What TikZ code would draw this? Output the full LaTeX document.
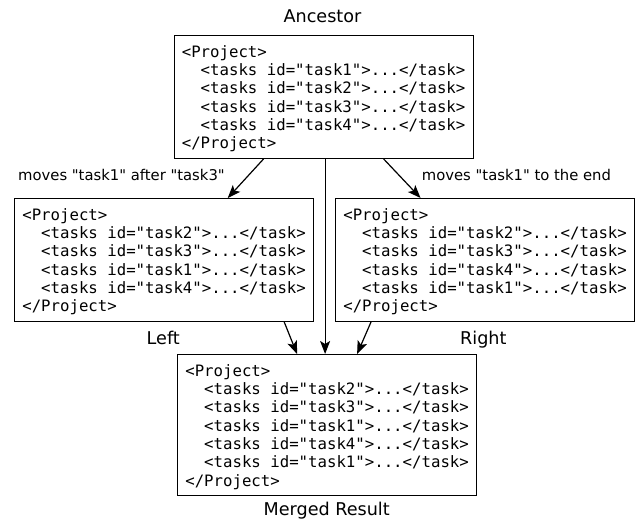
\documentclass[tikz,border=0pt]{standalone}
\usepackage{fontspec}
\setmainfont{DejaVu Sans}[Ligatures=TeXOff]
\setmonofont{DejaVu Sans Mono}
\usetikzlibrary{arrows.meta,calc}
\newcommand{\ind}{\phantom{xx}}
\newcommand{\fst}{\rule{0pt}{21.7pt}}
\newcommand{\lst}{\rule[-9.4pt]{0pt}{9.4pt}}
\tikzset{
  codebox/.style={draw, line width=1.2pt, anchor=north west, inner xsep=0pt, inner ysep=0pt,
    minimum width=299pt, align=left,
    font=\ttfamily\fontsize{15.7pt}{18.33pt}\selectfont},
  biglabel/.style={anchor=base, inner sep=0pt, font=\fontsize{17.6pt}{20pt}\selectfont},
  smalllabel/.style={anchor=base west, inner sep=0pt, font=\fontsize{14.8pt}{18pt}\selectfont},
  conn/.style={line width=1.2pt, -{Stealth[length=13pt,width=10pt,inset=3pt]}}
}
\begin{document}
\begin{tikzpicture}[x=1pt,y=-1pt]
\useasboundingbox (0,0) rectangle (635,520);
\node[codebox] (anc) at (173.5,35) {%
\fst<Project>\\
\ind<tasks id="task1">...</task>\\
\ind<tasks id="task2">...</task>\\
\ind<tasks id="task3">...</task>\\
\ind<tasks id="task4">...</task>\\
\lst</Project>};
\node[codebox] (lft) at (14,198) {%
\fst<Project>\\
\ind<tasks id="task2">...</task>\\
\ind<tasks id="task3">...</task>\\
\ind<tasks id="task1">...</task>\\
\ind<tasks id="task4">...</task>\\
\lst</Project>};
\node[codebox] (rgt) at (335,198) {%
\fst<Project>\\
\ind<tasks id="task2">...</task>\\
\ind<tasks id="task3">...</task>\\
\ind<tasks id="task4">...</task>\\
\ind<tasks id="task1">...</task>\\
\lst</Project>};
\node[codebox] (mer) at (177,354) {%
\fst<Project>\\
\ind<tasks id="task2">...</task>\\
\ind<tasks id="task3">...</task>\\
\ind<tasks id="task1">...</task>\\
\ind<tasks id="task4">...</task>\\
\ind<tasks id="task1">...</task>\\
\lst</Project>};

\node[biglabel] (tanc) at (322.5,22.3) {Ancestor};
\node[biglabel] (tlft) at (163.3,344) {Left};
\node[biglabel] (trgt) at (483.3,344) {Right};
\node[biglabel] (tmer) at (326.7,515) {Merged Result};
\node[smalllabel] (lblL) at (18,180) {moves "task1" after "task3"};
\node[smalllabel] (lblR) at (421.7,180) {moves "task1" to the end};

\draw[conn] ($(anc.south west)!0.30!(anc.south east)$) -- ($(lft.north west)!0.712!(lft.north east)$);
\draw[conn] ($(anc.south west)!0.70!(anc.south east)$) -- ($(rgt.north west)!0.285!(rgt.north east)$);
\coordinate (mid) at ($(anc.south west)!0.505!(anc.south east)$);
\draw[conn] (mid) -- (mid |- mer.north);
\draw[conn] ($(lft.south west)!0.9!(lft.south east)$) -- ($(mer.north west)!0.40!(mer.north east)$);
\draw[conn] ($(rgt.south west)!0.12!(rgt.south east)$) -- ($(mer.north west)!0.60!(mer.north east)$);
\end{tikzpicture}
\end{document}
